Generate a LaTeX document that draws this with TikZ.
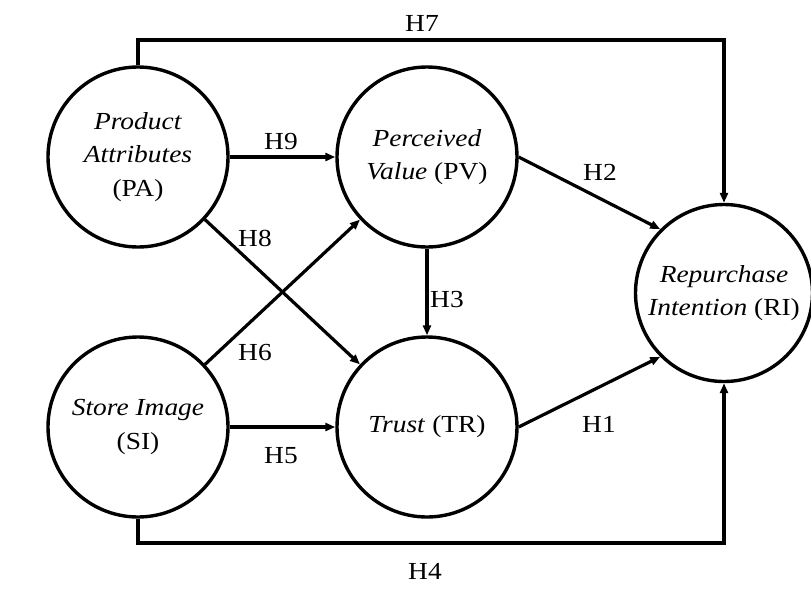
\documentclass[tikz,border=0pt]{standalone}
\usepackage{fontspec}
\setmainfont{Liberation Serif}
\usetikzlibrary{arrows.meta}
\newcommand{\wide}[1]{\scalebox{1.12}[1]{#1}}
\begin{document}
\begin{tikzpicture}[x=1pt,y=-1pt,
  construct/.style={draw,circle,line width=3.4pt,minimum size=180pt,inner sep=0pt,align=center,
    font=\fontsize{24.5}{33.5}\selectfont},
  lbl/.style={font=\fontsize{24.5}{28}\selectfont,inner sep=0pt},
  arr/.style={line width=3.2pt,-{Triangle[length=10pt,width=8pt]}}]
\useasboundingbox (0,0) rectangle (811,598);
\node[construct] (PA) at (138,157) {\wide{\textit{Product}}\\\wide{\textit{Attributes}}\\\wide{(PA)}};
\node[construct] (PV) at (427,157) {\wide{\textit{Perceived}}\\\wide{\textit{Value} (PV)}};
\node[construct] (SI) at (138,427) {\wide{\textit{Store Image}}\\\wide{(SI)}};
\node[construct] (TR) at (427,427) {\wide{\textit{Trust} (TR)}};
\node[construct,minimum size=177pt] (RI) at (724,293) {\wide{\textit{Repurchase}}\\\wide{\textit{Intention} (RI)}};
\coordinate (top) at (424,40);
\coordinate (bot) at (424,543);
\draw[arr] (PA.north) |- (top) -| (RI.north);
\draw[arr] (SI.south) |- (bot) -| (RI.south);
\draw[arr] (PA.east) -- (PV.west);
\draw[arr] (SI.east) -- (TR.west);
\draw[arr] (PV.east) -- (RI.135);
\draw[arr] (TR.east) -- (RI.225);
\draw[arr] (PV.south) -- (TR.north);
\draw[arr] (PA) -- (TR);
\draw[arr] (SI) -- (PV);
\node[lbl] (h7) at (422,23) {\wide{H7}};
\node[lbl] (h4) at (425,571) {\wide{H4}};
\node[lbl] (h9) at (281,142) {\wide{H9}};
\node[lbl] (h5) at (281,456) {\wide{H5}};
\node[lbl] (h8) at (255,238) {\wide{H8}};
\node[lbl] (h6) at (255,352) {\wide{H6}};
\node[lbl] (h2) at (600,172) {\wide{H2}};
\node[lbl] (h1) at (599,424) {\wide{H1}};
\node[lbl] (h3) at (447,300) {\wide{H3}};
\end{tikzpicture}
\end{document}
